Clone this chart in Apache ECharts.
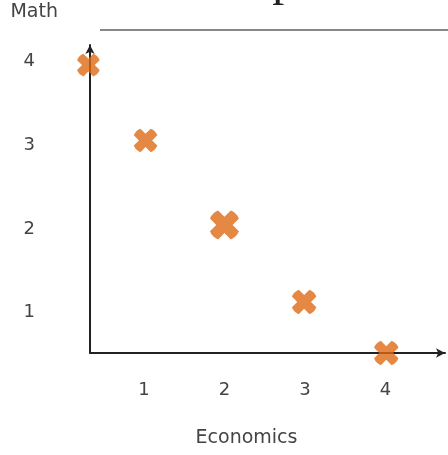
<!DOCTYPE html>
<html>
<head>
<meta charset="utf-8">
<script src="https://cdn.jsdelivr.net/npm/echarts@6/dist/echarts.min.js"></script>
<style>
  html, body { margin: 0; padding: 0; background: #fff; }
  #chart { width: 448px; height: 455px; }
</style>
</head>
<body>
<div id="chart"></div>
<script>
// data
const economics = [0.31, 1.02, 2.0, 2.99, 4.01];
const math = [3.96, 3.06, 2.05, 1.13, 0.52];
const tickValues = [1, 2, 3, 4];

// marker sizes (style only)
const markSizes = [25, 26, 32, 27, 27];

const points = economics.map((x, i) => [x, math[i]]);

// thick cross with rounded arm ends, rotated 45deg below
const crossPath =
  "path://M32,4Q50,-4 68,4V32H96Q104,50 96,68H68V96Q50,104 32,96V68H4Q-4,50 4,32H32Z";

const chart = echarts.init(document.getElementById("chart"));

const labelFmt = (v) => (tickValues.indexOf(v) >= 0 ? String(v) : "");

const option = {
  animation: false,
  title: {
    text: "Scatterplot",
    left: 134,
    top: -47,
    textStyle: {
      fontFamily: "Liberation Serif",
      fontSize: 48,
      fontWeight: "normal",
      color: "#222",
    },
  },
  grid: {
    left: 90,
    right: 2,
    top: 45,
    bottom: 102,
  },
  xAxis: {
    type: "value",
    min: 0.33,
    max: 4.74,
    splitLine: { show: false },
    axisTick: { show: false },
    axisLine: {
      onZero: false,
      symbol: ["none", "arrow"],
      symbolSize: [7, 9],
      lineStyle: { color: "#222", width: 2 },
    },
    axisLabel: {
      formatter: labelFmt,
      margin: 28,
      color: "#444",
      fontFamily: "DejaVu Sans",
      fontSize: 18,
    },
    name: "Economics",
    nameLocation: "middle",
    nameGap: 76,
    nameTextStyle: {
      color: "#444",
      fontFamily: "DejaVu Sans",
      fontSize: 19,
      padding: [0, 42, 0, 0],
    },
  },
  yAxis: {
    type: "value",
    min: 0.52,
    max: 4.2,
    splitLine: { show: false },
    axisTick: { show: false },
    axisLine: {
      onZero: false,
      symbol: ["none", "arrow"],
      symbolSize: [7, 9],
      lineStyle: { color: "#222", width: 2 },
    },
    axisLabel: {
      formatter: labelFmt,
      margin: 55,
      color: "#444",
      fontFamily: "DejaVu Sans",
      fontSize: 18,
    },
    name: "Math",
    nameLocation: "end",
    nameGap: 23,
    nameTextStyle: {
      color: "#444",
      fontFamily: "DejaVu Sans",
      fontSize: 19,
      align: "right",
      padding: [0, 32, 0, 0],
    },
  },
  graphic: [
    {
      type: "line",
      shape: { x1: 100, y1: 30, x2: 448, y2: 30 },
      style: { stroke: "#888", lineWidth: 2 },
    },
  ],
  series: [
    {
      type: "scatter",
      data: points,
      clip: false,
      symbol: crossPath,
      symbolRotate: 45,
      symbolSize: (val, params) => markSizes[params.dataIndex],
      itemStyle: { color: "#DD6A15" },
    },
  ],
};

chart.setOption(option);
</script>
</body>
</html>
